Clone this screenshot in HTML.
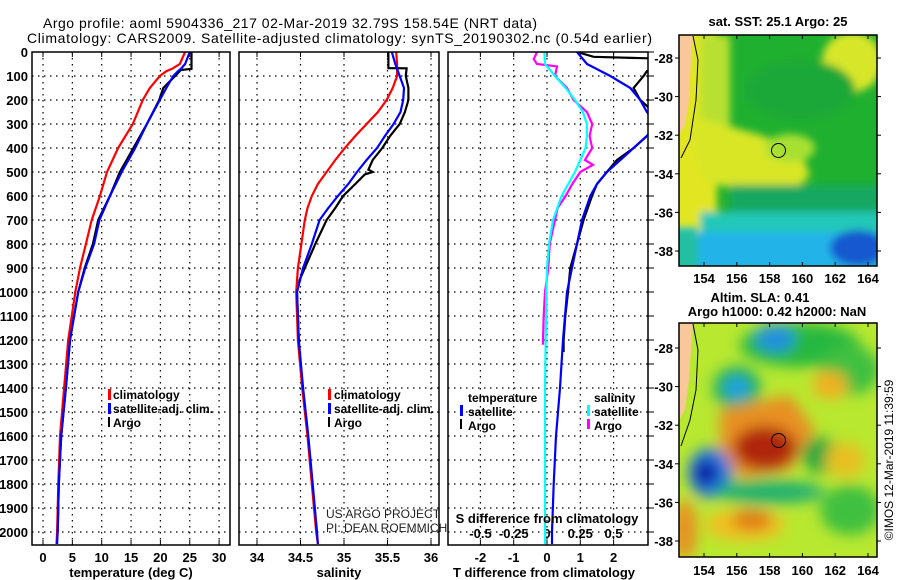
<!DOCTYPE html>
<html><head><meta charset="utf-8"><style>
body{margin:0;background:#fff;}
svg{display:block;font-family:"Liberation Sans",sans-serif;}
.b{font-weight:bold;font-size:13px;}
.t{font-size:14px;}
</style></head><body>
<svg id="s" width="900" height="580" viewBox="0 0 900 580" xmlns="http://www.w3.org/2000/svg">
<defs>
<clipPath id="c1"><rect x="32" y="52" width="198" height="493"/></clipPath>
<clipPath id="c2"><rect x="239" y="52" width="200" height="493"/></clipPath>
<clipPath id="c3"><rect x="448" y="52" width="200" height="493"/></clipPath>
<clipPath id="m1"><rect x="679" y="35" width="198" height="231"/></clipPath>
<clipPath id="m2"><rect x="679" y="323" width="198" height="234"/></clipPath>
<filter id="bl" x="-50%" y="-50%" width="200%" height="200%"><feGaussianBlur stdDeviation="7"/></filter>
<filter id="bl2" x="-50%" y="-50%" width="200%" height="200%"><feGaussianBlur stdDeviation="4"/></filter>
</defs>
<text x="290" y="28" text-anchor="middle" class="t" textLength="494">Argo profile: aoml 5904336_217 02-Mar-2019 32.79S 158.54E (NRT data)</text>
<text x="27" y="43" class="t" textLength="625">Climatology: CARS2009. Satellite-adjusted climatology: synTS_20190302.nc (0.54d earlier)</text>

<g id="p1"></g>
<g id="p2"></g>
<g id="p3"></g>

<g>
<rect x="108" y="389" width="3" height="11" fill="#f00"/><text x="113" y="399" font-size="12" font-weight="bold">climatology</text>
<rect x="108" y="403" width="3" height="11" fill="#00f"/><text x="113" y="413" font-size="12" font-weight="bold">satellite-adj. clim.</text>
<rect x="108" y="417" width="2" height="10" fill="#000"/><text x="113" y="427" font-size="12" font-weight="bold">Argo</text>
</g>
<g>
<rect x="328" y="389" width="3" height="11" fill="#f00"/><text x="334" y="399" font-size="12" font-weight="bold">climatology</text>
<rect x="328" y="403" width="3" height="11" fill="#00f"/><text x="334" y="413" font-size="12" font-weight="bold">satellite-adj. clim.</text>
<rect x="328" y="417" width="2" height="10" fill="#000"/><text x="334" y="427" font-size="12" font-weight="bold">Argo</text>
</g>
<text x="326" y="518" font-size="12" fill="#222">US ARGO PROJECT</text>
<text x="326" y="532" font-size="12" fill="#222">PI: DEAN ROEMMICH</text>
<g>
<text x="468" y="402" font-size="12" font-weight="bold">temperature</text>
<rect x="460" y="405" width="3" height="11" fill="#00f"/><text x="468" y="416" font-size="12" font-weight="bold">satellite</text>
<rect x="460" y="419" width="2" height="10" fill="#000"/><text x="468" y="430" font-size="12" font-weight="bold">Argo</text>
<text x="594" y="402" font-size="12" font-weight="bold">salinity</text>
<rect x="587" y="405" width="3" height="11" fill="#0ff"/><text x="594" y="416" font-size="12" font-weight="bold">satellite</text>
<rect x="587" y="419" width="3" height="10" fill="#f0f"/><text x="594" y="430" font-size="12" font-weight="bold">Argo</text>
</g>

<g>
<text x="778" y="26" text-anchor="middle" class="b">sat. SST: 25.1 Argo: 25</text>
<g clip-path="url(#m1)">
<rect x="679" y="35" width="198" height="231" fill="#20b030"/>
<g filter="url(#bl2)">
<rect x="672" y="30" width="45" height="210" fill="#e2e622"/>
<rect x="700" y="35" width="30" height="110" fill="#b8e030"/>
<polygon points="690,115 760,135 800,150 810,175 790,195 740,190 700,180" fill="#d8e626"/>
<ellipse cx="790" cy="148" rx="25" ry="14" fill="#a8e030"/>
<ellipse cx="852" cy="62" rx="30" ry="30" fill="#d8e62c"/>
<ellipse cx="800" cy="90" rx="55" ry="30" fill="#1ca838"/>
<rect x="730" y="185" width="160" height="30" fill="#18a860"/>
<rect x="700" y="212" width="190" height="25" fill="#20c8b8"/>
<rect x="679" y="232" width="210" height="40" fill="#22b4e8"/>
<ellipse cx="858" cy="248" rx="28" ry="18" fill="#1858d0"/>
</g>
<rect x="672" y="228" width="25" height="45" fill="#20c0a0" filter="url(#bl2)"/>
<path d="M679 35 L693 35 L691 60 L689 100 L685 125 L679 135 Z" fill="#f8c89a"/>
<path d="M693 36 L698 60 L696 100 L690 140 L681 158" fill="none" stroke="#000" stroke-width="1"/>
<circle cx="778.5" cy="150.5" r="7" fill="none" stroke="#000" stroke-width="1"/>
</g>
<rect x="679" y="35" width="198" height="231" fill="none" stroke="#000" stroke-width="1.5"/>
</g>
<g>
<text x="760" y="302" text-anchor="middle" class="b">Altim. SLA: 0.41</text>
<text x="777" y="316" text-anchor="middle" class="b">Argo h1000: 0.42 h2000: NaN</text>
<g clip-path="url(#m2)">
<rect x="679" y="323" width="198" height="234" fill="#b8e830"/>
<g filter="url(#bl)">
<ellipse cx="800" cy="345" rx="60" ry="22" fill="#28b840"/>
<ellipse cx="775" cy="338" rx="20" ry="14" fill="#2090e0"/>
<ellipse cx="737" cy="388" rx="24" ry="22" fill="#20b060"/>
<ellipse cx="737" cy="388" rx="12" ry="11" fill="#20a0e8"/>
<ellipse cx="850" cy="370" rx="30" ry="25" fill="#40c040"/>
<ellipse cx="830" cy="385" rx="18" ry="14" fill="#f0b020"/>
<polygon points="720,410 790,395 815,430 790,470 740,478 720,450" fill="#e89020"/>
<ellipse cx="765" cy="448" rx="32" ry="22" fill="#b02808"/>
<ellipse cx="710" cy="473" rx="22" ry="25" fill="#2078e0"/>
<ellipse cx="706" cy="473" rx="12" ry="13" fill="#0818a0"/>
<ellipse cx="820" cy="455" rx="18" ry="18" fill="#20a840"/>
<ellipse cx="770" cy="492" rx="55" ry="12" fill="#20b070"/>
<ellipse cx="745" cy="525" rx="40" ry="16" fill="#f0c020"/>
<ellipse cx="752" cy="520" rx="20" ry="10" fill="#e07818"/>
<ellipse cx="850" cy="510" rx="30" ry="25" fill="#40c040"/>
<ellipse cx="845" cy="460" rx="20" ry="18" fill="#e8c020"/>
<ellipse cx="685" cy="530" rx="12" ry="30" fill="#e89020"/>
</g>
<path d="M679 323 L693 323 L691 350 L689 380 L685 410 L679 420 Z" fill="#f8c89a"/>
<path d="M693 324 L698 350 L696 390 L690 420 L681 446" fill="none" stroke="#000" stroke-width="1"/>
<circle cx="778.5" cy="440.5" r="7" fill="none" stroke="#000" stroke-width="1"/>
</g>
<rect x="679" y="323" width="198" height="234" fill="none" stroke="#000" stroke-width="1.5"/>
</g>
<g id="maxes"></g>
<text transform="translate(893,460) rotate(-90)" text-anchor="middle" font-size="12">©IMOS 12-Mar-2019 11:39:59</text>
</svg>
<script>
// ---- data ----
const depthsT = [0,50,70,80,100,150,200,300,400,500,600,700,800,900,1000,1200,1400,1600,1800,2000,2050];
const tempClim = [24.2,23.3,22.0,21.0,19.9,18.2,17.0,15.3,12.8,10.9,9.7,8.3,7.3,6.3,5.5,4.3,3.6,2.9,2.6,2.4,2.3];
const tempSat  = [25.0,24.2,23.5,23.0,22.2,21.0,19.9,17.7,15.7,13.4,11.4,9.6,8.7,7.2,6.0,4.6,3.9,3.1,2.7,2.5,2.4];
const argoDepth = [0,70,75,100,150,200,300,400,500,600,700,800,900,1000,1200,1400,1600,1800,2000];
const tempArgo = [25.3,25.3,23.5,22.5,20.5,19.8,17.7,15.4,13.1,11.4,9.4,8.5,7.1,6.0,4.6,3.9,3.1,2.7,2.5];
const depthsS = [0,50,100,150,200,250,300,350,400,450,500,550,600,650,700,800,900,1000,1200,1400,1600,1800,2000,2050];
const salClim = [35.60,35.61,35.61,35.56,35.49,35.39,35.26,35.13,35.01,34.90,34.80,34.70,34.63,34.58,34.55,34.51,34.47,34.45,34.47,34.52,34.58,34.63,34.68,34.70];
const salSat  = [35.55,35.59,35.64,35.69,35.68,35.65,35.57,35.47,35.38,35.26,35.15,35.05,34.93,34.82,34.72,34.63,34.53,34.46,34.48,34.53,34.59,34.64,34.69,34.70];
const argoSDepth = [0,67,68,100,150,200,250,300,350,400,450,490,500,510,550,600,650,700,800,900,950,1000,1200];
const salArgo = [35.51,35.51,35.72,35.71,35.74,35.74,35.70,35.64,35.53,35.44,35.33,35.28,35.33,35.24,35.13,34.99,34.90,34.80,34.67,34.55,34.49,34.46,34.48];
const dDepth = [0,50,100,150,200,250,300,350,400,450,500,550,600,700,800,900,1000,1200,1400,1600,1800,2000,2050];
const dTempSat = [0.9,1.2,1.9,2.5,2.8,3.0,3.3,3.0,2.6,2.2,1.8,1.5,1.3,1.05,0.9,0.75,0.6,0.48,0.39,0.27,0.2,0.15,0.15];
const dArgoDepth = [0,20,30,60,80,100,150,200,250,300,350,400,450,500,550,600,700,800,900,1000,1100,1200,1250];
const dTempArgo = [0.9,1.4,4.0,4.0,3.0,2.9,2.6,2.8,3.2,3.4,3.0,2.6,2.1,1.8,1.5,1.35,1.1,0.9,0.7,0.63,0.55,0.5,0.5];
const dSalSat = [-0.02,-0.015,0.06,0.14,0.21,0.27,0.30,0.30,0.29,0.25,0.21,0.16,0.11,0.045,0.015,0.0,-0.005,-0.01,-0.015,-0.015,-0.015,-0.015,-0.015];
const dSArgoDepth = [0,30,50,60,100,150,200,250,300,350,400,450,470,500,550,600,650,700,800,900,1000,1100,1200,1220];
const dSalArgo = [-0.075,-0.1,-0.075,0.075,0.06,0.15,0.2,0.3,0.34,0.32,0.34,0.285,0.345,0.25,0.19,0.14,0.08,0.06,0.02,0.01,-0.015,-0.025,-0.03,-0.03];
const depthTicks = [0,100,200,300,400,500,600,700,800,900,1000,1100,1200,1300,1400,1500,1600,1700,1800,1900,2000];
const tempTicks = [0,5,10,15,20,25,30];
const salTicks = [34,34.5,35,35.5,36];
const salTickLabels = ["34","34.5","35","35.5","36"];
const dTTicks = [-2,-1,0,1,2];
const dSTicks = [-0.5,-0.25,0,0.25,0.5];
const dSTickLabels = ["-0.5","-0.25","0","0.25","0.5"];
const lonTicks = [154,156,158,160,162,164];
const latTicks = [-28,-30,-32,-34,-36,-38];

// ---- scales ----
const NS='http://www.w3.org/2000/svg';
const yD = d => 52 + d*0.24;
const xT = t => 43 + t*5.87;
const xS = s => 257 + (s-34)*87;
const xDT = v => 547 + v*33.3;
const xDS = v => 547 + v*133;
const xLon = l => 704 + (l-154)*16.4;
const yLat1 = l => 58 + (-28-l)*19.3;
const yLat2 = l => 348 + (-28-l)*19.3;

function mk(tag, attrs, parent){const e=document.createElementNS(NS,tag);for(const k in attrs)e.setAttribute(k,attrs[k]);parent.appendChild(e);return e;}

function frame(g, x0, x1, xticks, xf, labels){
  const gg = mk('g',{},g);
  depthTicks.slice(1).forEach(d=>{
    const l=mk('line',{x1:x0,x2:x1,y1:yD(d),y2:yD(d),stroke:'#000','stroke-width':1.2,'stroke-dasharray':'1.5,4.5'},gg);
    
    
  });
  xticks.forEach((v,i)=>{
    const l=mk('line',{x1:xf(v),x2:xf(v),y1:52,y2:545,stroke:'#000','stroke-width':1.2,'stroke-dasharray':'1.5,4.5'},gg);
    
    
    mk('line',{x1:xf(v),x2:xf(v),y1:52,y2:57,stroke:'#000'},gg);
    mk('line',{x1:xf(v),x2:xf(v),y1:540,y2:545,stroke:'#000'},gg);
    if(labels){
      const t=mk('text',{x:xf(v),y:562,'text-anchor':'middle',class:'b'},gg);
      t.textContent=labels[i];
      
      
    }
  });
  return gg;
}
function line(g, xs, ds, xf, color, clip, w){
  const pts = xs.map((v,i)=>xf(v).toFixed(1)+','+yD(ds[i]).toFixed(1)).join(' ');
  return mk('polyline',{points:pts,fill:'none',stroke:color,'stroke-width':w||2,'clip-path':'url(#'+clip+')'},g);
}
function border(g,x0,x1){mk('rect',{x:x0,y:52,width:x1-x0,height:493,fill:'none',stroke:'#000','stroke-width':1.5},g);}

const p1=document.getElementById('p1');
frame(p1,32,230,tempTicks,xT,tempTicks.map(String));
depthTicks.forEach(d=>{
  const t=mk('text',{x:28,y:yD(d)+5,'text-anchor':'end',class:'b'},p1);
  t.textContent=String(d);
  
  
});
let e;
e=line(p1,tempArgo,argoDepth,xT,'#000','c1',2.2);


e=line(p1,tempClim,depthsT,xT,'#f00','c1',2.2);


e=line(p1,tempSat,depthsT,xT,'#00f','c1',2.2);


border(p1,32,230);
e=mk('text',{x:131,y:577,'text-anchor':'middle',class:'b'},p1); e.textContent='temperature (deg C)';



const p2=document.getElementById('p2');
frame(p2,239,439,salTicks,xS,salTickLabels);
e=line(p2,salArgo,argoSDepth,xS,'#000','c2',2.2);


e=line(p2,salClim,depthsS,xS,'#f00','c2',2.2);


e=line(p2,salSat,depthsS,xS,'#00f','c2',2.2);


border(p2,239,439);
e=mk('text',{x:339,y:577,'text-anchor':'middle',class:'b'},p2); e.textContent='salinity';



const p3=document.getElementById('p3');
frame(p3,448,648,dTTicks,xDT,dTTicks.map(String));
dSTicks.forEach((v,i)=>{
  const t=mk('text',{x:xDS(v),y:538,'text-anchor':'middle',class:'b'},p3);
  t.textContent=dSTickLabels[i];
  
  
});
e=line(p3,dTempArgo,dArgoDepth,xDT,'#000','c3',2.2);


e=line(p3,dTempSat,dDepth,xDT,'#00f','c3',2.2);


e=line(p3,dSalArgo,dSArgoDepth,xDS,'#f0f','c3',2.2);


e=line(p3,dSalSat,dDepth,xDS,'#0ff','c3',2.2);


border(p3,448,648);
depthTicks.forEach(d=>mk('line',{x1:648,x2:654,y1:yD(d),y2:yD(d),stroke:'#000'},p3));
e=mk('text',{x:547,y:523,'text-anchor':'middle',class:'b'},p3); e.textContent='S difference from climatology';


e=mk('text',{x:544,y:577,'text-anchor':'middle',class:'b'},p3); e.textContent='T difference from climatology';



const ma=document.getElementById('maxes');
[[yLat1,266,35,283],[yLat2,557,323,575]].forEach(([yf,bot,top,ly])=>{
  lonTicks.forEach(l=>{
    mk('line',{x1:xLon(l),x2:xLon(l),y1:bot,y2:bot-4,stroke:'#000'},ma);
    mk('line',{x1:xLon(l),x2:xLon(l),y1:top,y2:top+4,stroke:'#000'},ma);
    const t=mk('text',{x:xLon(l),y:ly,'text-anchor':'middle',class:'b'},ma);
    t.textContent=String(l);
    
    
  });
  latTicks.forEach(l=>{
    mk('line',{x1:679,x2:675,y1:yf(l),y2:yf(l),stroke:'#000'},ma);
    mk('line',{x1:877,x2:881,y1:yf(l),y2:yf(l),stroke:'#000'},ma);
    const t=mk('text',{x:673,y:yf(l)+5,'text-anchor':'end',class:'b'},ma);
    t.textContent=String(l);
    
    
  });
});
</script>
</body></html>
